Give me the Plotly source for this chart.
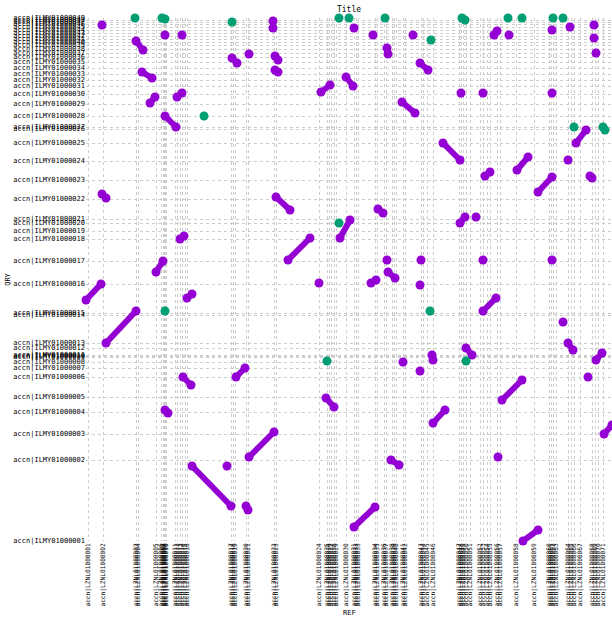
import plotly.graph_objects as go

# Reference contig start positions (plot units) and names
ref_pos = [2, 17, 50, 52, 70, 75, 77, 78, 79, 80, 89, 91, 94, 96, 99, 101,
           145, 147, 149, 160, 162, 188, 190, 233, 241, 243, 245, 248, 250,
           260, 268, 270, 272, 289, 291, 298, 300, 306, 308, 310, 317, 319,
           335, 337, 341, 347, 373, 375, 377, 380, 384, 394, 397, 401, 404,
           411, 414, 430, 448, 463, 465, 467, 470, 482, 485, 488, 494, 506,
           509, 512, 517]
ref_names = ["accn|LZNL010000%02d" % (i + 1) for i in range(len(ref_pos))]

# Query contig start positions (plot units) and names
qry_pos = [0, 81, 107, 129, 144, 164, 173, 179, 184, 185, 186, 193, 198,
           226, 228, 257, 280, 302, 310, 318, 322, 342, 361, 380, 398, 412,
           414, 425, 437, 447, 455, 461, 467, 473, 479, 484, 488, 492, 496,
           499, 502, 505, 508, 511, 514, 517, 519, 521, 523]
qry_names = ["accn|ILMY010000%02d" % (i + 1) for i in range(len(qry_pos))]

# Forward alignment segments: ref start, qry start, ref end, qry end
fwd_x1 = [0, 16, 20, 50, 56, 64, 79, 91, 70, 94, 97, 101, 79, 106, 150, 160,
          163, 146, 189, 189, 190, 202, 240, 254, 260, 235, 268, 302, 285,
          292, 305, 316, 334, 346, 347, 357, 374, 380, 397, 399, 408, 416,
          431, 452, 437, 482, 490, 504, 510, 518, 301]
fwd_y1 = [241, 347, 198, 500, 469, 438, 425, 444, 269, 302, 164, 243, 131,
          75, 164, 35, 84, 483, 485, 471, 344, 281, 143, 303, 464, 449, 14,
          269, 258, 332, 81, 439, 478, 186, 118, 398, 318, 193, 230, 365, 506,
          141, 371, 349, 0, 198, 398, 365, 181, 107, 493]
fwd_x2 = [15, 20, 50, 57, 66, 69, 90, 96, 77, 98, 105, 106, 82, 145, 159,
          162, 188, 151, 192, 192, 204, 224, 248, 264, 267, 244, 289, 309,
          290, 297, 313, 329, 342, 347, 359, 374, 379, 386, 410, 404, 411,
          436, 442, 466, 452, 487, 500, 506, 516, 526, 302]
fwd_y2 = [257, 343, 230, 491, 463, 444, 414, 448, 280, 305, 156, 247, 128,
          35, 173, 31, 109, 478, 481, 469, 331, 303, 134, 321, 455, 456, 34,
          263, 261, 328, 76, 428, 471, 181, 131, 381, 324, 186, 243, 369, 510,
          161, 384, 364, 11, 191, 411, 363, 188, 116, 487]

# Short forward hits (single points)
fwd_px = [16, 79, 96, 187, 187, 163, 141, 233, 268, 287, 301, 317, 327, 335,
          334, 334, 375, 390, 397, 397, 412, 423, 466, 466, 466, 477, 482,
          484, 502, 508, 508, 510]
fwd_py = [516, 506, 506, 520, 513, 487, 75, 258, 513, 506, 281, 179, 506,
          281, 256, 170, 448, 324, 448, 281, 84, 506, 511, 448, 281, 219, 381,
          514, 164, 516, 503, 488]

# Reverse hits (single points)
rev_px = [49, 76, 79, 146, 253, 263, 299, 345, 376, 379, 422, 436, 467, 477,
          79, 118, 241, 253, 344, 380, 488, 517, 519]
rev_py = [523, 523, 522, 519, 523, 523, 523, 501, 523, 521, 523, 523, 523,
          523, 230, 425, 180, 318, 230, 180, 414, 414, 411]

PURPLE = "#9400D3"
GREEN = "#009E73"

lx, ly = [], []
for a, b, c, d in zip(fwd_x1, fwd_y1, fwd_x2, fwd_y2):
    lx += [a, c, None]
    ly += [b, d, None]

fig = go.Figure()
fig.add_trace(go.Scatter(x=lx, y=ly, mode="lines+markers",
                         line=dict(color=PURPLE, width=6),
                         marker=dict(color=PURPLE, size=9),
                         cliponaxis=False, showlegend=False, hoverinfo="skip"))
fig.add_trace(go.Scatter(x=fwd_px, y=fwd_py, mode="markers",
                         marker=dict(color=PURPLE, size=9),
                         cliponaxis=False, showlegend=False))
fig.add_trace(go.Scatter(x=rev_px, y=rev_py, mode="markers",
                         marker=dict(color=GREEN, size=9),
                         cliponaxis=False, showlegend=False))

small = dict(family="DejaVu Sans Mono", size=7, color="black")
fig.update_layout(
    width=612, height=619,
    margin=dict(l=86, r=0, t=18, b=78),
    paper_bgcolor="white", plot_bgcolor="white",
    title=dict(text="Title", x=0.5, xref="paper", y=0.985, yanchor="middle",
               font=dict(family="DejaVu Sans Mono", size=8, color="black")),
    xaxis=dict(range=[0, 526], tickvals=ref_pos, ticktext=ref_names,
               tickangle=-90,
               tickfont=dict(family="DejaVu Sans Mono", size=6.2,
                             color="black"),
               ticks="", showline=False,
               zeroline=False, showgrid=True, gridcolor="#cccccc",
               griddash="dot", gridwidth=1, automargin=False),
    yaxis=dict(range=[0, 523], tickvals=qry_pos, ticktext=qry_names,
               tickfont=small, ticks="", showline=False, zeroline=False,
               showgrid=True, gridcolor="#cccccc", griddash="dot",
               gridwidth=1, automargin=False,
               title=dict(text="QRY", standoff=1, font=small)),
    annotations=[dict(text="REF", xref="paper", yref="paper", x=0.5,
                      y=-72 / 523, xanchor="center", yanchor="middle",
                      showarrow=False, font=small)],
)
fig.write_html("out.html")
